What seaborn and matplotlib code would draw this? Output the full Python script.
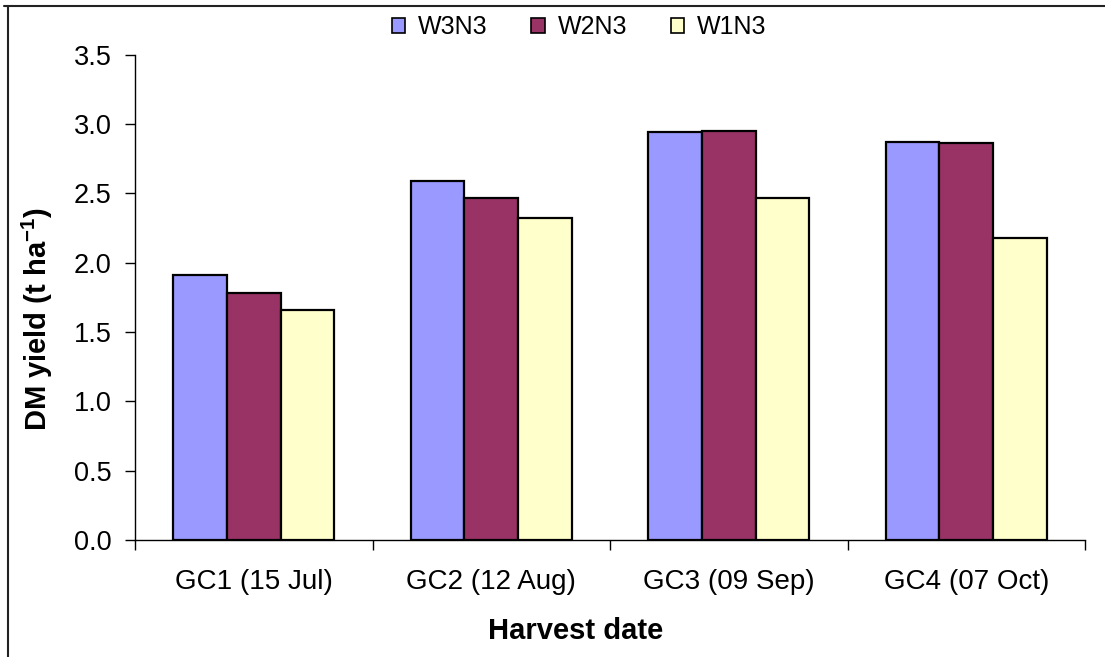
import matplotlib
matplotlib.use("Agg")
import matplotlib.pyplot as plt
from matplotlib.lines import Line2D
from matplotlib.patches import Patch
from matplotlib.ticker import FixedLocator, NullFormatter
import seaborn as sns
import pandas as pd

# ---- data ----
categories = ["GC1 (15 Jul)", "GC2 (12 Aug)", "GC3 (09 Sep)", "GC4 (07 Oct)"]
series_names = ["W3N3", "W2N3", "W1N3"]
w3n3 = [1.91, 2.59, 2.94, 2.87]
w2n3 = [1.78, 2.47, 2.95, 2.86]
w1n3 = [1.66, 2.32, 2.47, 2.18]
colors = ["#9999FF", "#993366", "#FFFFCC"]
yticks = [0.0, 0.5, 1.0, 1.5, 2.0, 2.5, 3.0, 3.5]

df = pd.DataFrame({
    "category": categories * 3,
    "series": [s for s in series_names for _ in categories],
    "value": w3n3 + w2n3 + w1n3,
})

sns.set_theme(style="white")
plt.rcParams["font.family"] = ["Liberation Sans", "DejaVu Sans"]
plt.rcParams["mathtext.fontset"] = "custom"
plt.rcParams["mathtext.rm"] = "Liberation Sans"
plt.rcParams["mathtext.bf"] = "Liberation Sans:bold"
plt.rcParams["text.color"] = "black"
plt.rcParams["xtick.color"] = "black"
plt.rcParams["ytick.color"] = "black"
plt.rcParams["axes.labelcolor"] = "black"

W, H = 1105, 657
fig = plt.figure(figsize=(W / 100, H / 100), dpi=100)
ax = fig.add_axes([135 / W, 1 - 540 / H, 950 / W, (540 - 54.7) / H])

sns.barplot(data=df, x="category", y="value", hue="series", order=categories,
            hue_order=series_names, palette=colors, width=0.678,
            edgecolor="black", linewidth=1.6, saturation=1, ax=ax, legend=False)

ax.set_xlim(-0.5, 3.5)
ax.set_ylim(0, 3.5)
ax.set_yticks(yticks)
ax.set_yticklabels([f"{v:.1f}" for v in yticks], fontsize=19.5)
ax.tick_params(axis="y", direction="out", length=7, width=1, color="black", pad=10, left=True)

# x: major ticks at category boundaries (no labels), labels on minor ticks
ax.xaxis.set_major_locator(FixedLocator([-0.5, 0.5, 1.5, 2.5, 3.5]))
ax.xaxis.set_major_formatter(NullFormatter())
ax.xaxis.set_minor_locator(FixedLocator([0, 1, 2, 3]))
ax.set_xticklabels(categories, minor=True, fontsize=20)
ax.tick_params(axis="x", which="major", direction="out", length=7, width=1, color="black", bottom=True)
ax.tick_params(axis="x", which="minor", length=0, pad=21, bottom=True)

ax.set_xlabel("")
ax.set_ylabel("")
for s in ["top", "right"]:
    ax.spines[s].set_visible(False)
for s in ["left", "bottom"]:
    ax.spines[s].set_color("black")
    ax.spines[s].set_linewidth(1)
ax.grid(False)

fig.text(576 / W, 1 - 631 / H, "Harvest date", ha="center", va="center",
         fontsize=21, fontweight="bold", color="black")
fig.text(37 / W, 1 - 319 / H, r"DM yield (t ha$^{\mathbf{-1}}$)", ha="center", va="center",
         rotation=90, fontsize=21, fontweight="bold", color="black")

# legend
handles = [Patch(facecolor=c, edgecolor="black", linewidth=1.2) for c in colors]
fig.legend(handles, series_names, loc="center", bbox_to_anchor=(579 / W, 1 - 27 / H),
           ncol=3, frameon=False, fontsize=18, handlelength=0.55, handleheight=0.55,
           handletextpad=0.5, columnspacing=1.75, borderpad=0)

# outer frame lines (top and left)
fig.add_artist(Line2D([4 / W, 1], [1 - 5.5 / H, 1 - 5.5 / H], transform=fig.transFigure,
                      color="#222222", linewidth=1.5))
fig.add_artist(Line2D([7.5 / W, 7.5 / W], [0, 1 - 5.5 / H], transform=fig.transFigure,
                      color="#222222", linewidth=1.5))

fig.savefig("out.png", dpi=100)
